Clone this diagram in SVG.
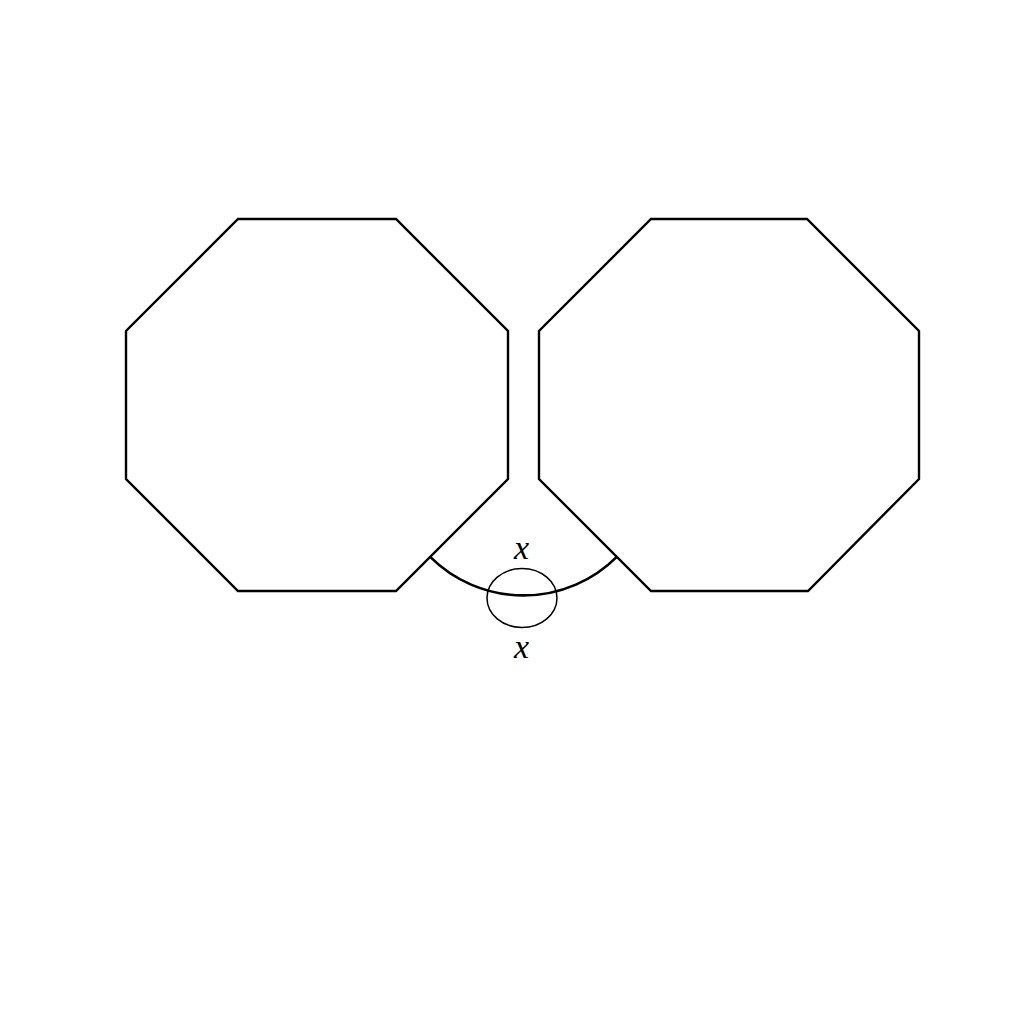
<svg xmlns="http://www.w3.org/2000/svg" width="1024" height="1024" viewBox="0 0 1024 1024">
<style>
.oct{fill:none;stroke:#000;stroke-width:2.4;stroke-linejoin:miter}
.arc{fill:none;stroke:#000;stroke-width:2.6}
.small{fill:none;stroke:#000;stroke-width:1.5}
.lbl{font-family:"Liberation Serif","DejaVu Serif",serif;font-style:italic;font-size:34px;fill:#000;text-anchor:middle}
</style>
<rect width="1024" height="1024" fill="#fff"/>
<g id="octagon-left">
<polygon class="oct" points="238,219 396,219 508,331 508,479 396,591 238,591 126,479 126,331"/>
</g>
<g id="octagon-right">
<polygon class="oct" points="651,219 807,219 919,331 919,479 808,591 651,591 539,479 539,331"/>
</g>
<g id="connectors">
<path class="arc" d="M430.2,556.8 A132,132 0 0 0 616.8,556.8"/>
<ellipse class="small" cx="522" cy="598" rx="35" ry="29.5"/>
</g>
<g id="labels">
<text class="lbl" x="521.5" y="559">x</text>
<text class="lbl" x="521.5" y="658">x</text>
</g>
</svg>
